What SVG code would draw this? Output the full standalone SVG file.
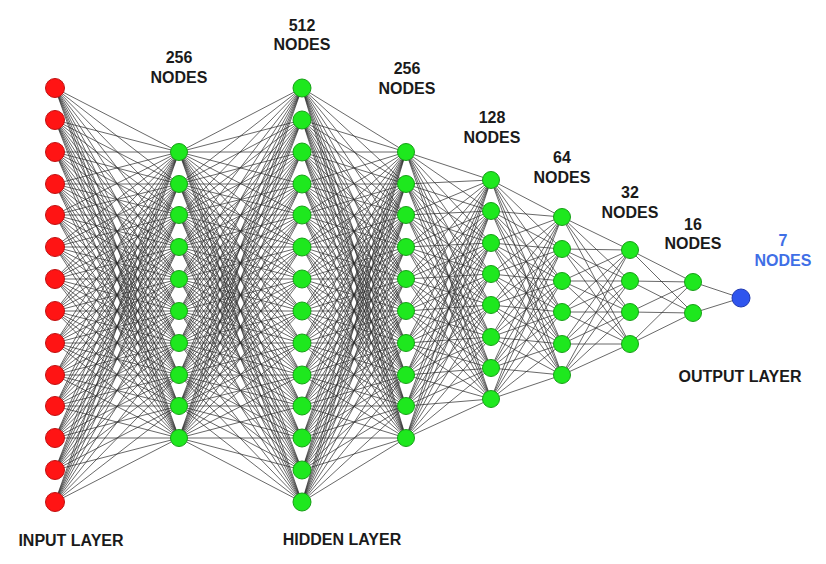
<svg xmlns="http://www.w3.org/2000/svg" width="826" height="564" viewBox="0 0 826 564">
<style>
.e{fill:none;stroke:#2e2e2e;stroke-width:0.8;stroke-opacity:0.9}
.r{fill:#ff1414;stroke:#c01010;stroke-width:1}
.g{fill:#1ee81e;stroke:#17a017;stroke-width:1}
.b{fill:#2f55ee;stroke:#2039b0;stroke-width:1}
.t{font-family:"Liberation Sans",Arial,sans-serif;font-weight:bold;font-size:16px;fill:#1a1a1a;text-anchor:middle}
.L{font-size:16px}
.bl{fill:#3f6fe6}
</style>
<rect width="826" height="564" fill="#ffffff"/>
<g id="connectors">
<g id="edges-input-256">
<path class="e" d="M55 88L179 152M55 88L179 184M55 88L179 215M55 88L179 247M55 88L179 279M55 88L179 311M55 88L179 343M55 88L179 375M55 88L179 406M55 88L179 438"/>
<path class="e" d="M55 120L179 152M55 120L179 184M55 120L179 215M55 120L179 247M55 120L179 279M55 120L179 311M55 120L179 343M55 120L179 375M55 120L179 406M55 120L179 438"/>
<path class="e" d="M55 152L179 152M55 152L179 184M55 152L179 215M55 152L179 247M55 152L179 279M55 152L179 311M55 152L179 343M55 152L179 375M55 152L179 406M55 152L179 438"/>
<path class="e" d="M55 184L179 152M55 184L179 184M55 184L179 215M55 184L179 247M55 184L179 279M55 184L179 311M55 184L179 343M55 184L179 375M55 184L179 406M55 184L179 438"/>
<path class="e" d="M55 215L179 152M55 215L179 184M55 215L179 215M55 215L179 247M55 215L179 279M55 215L179 311M55 215L179 343M55 215L179 375M55 215L179 406M55 215L179 438"/>
<path class="e" d="M55 247L179 152M55 247L179 184M55 247L179 215M55 247L179 247M55 247L179 279M55 247L179 311M55 247L179 343M55 247L179 375M55 247L179 406M55 247L179 438"/>
<path class="e" d="M55 279L179 152M55 279L179 184M55 279L179 215M55 279L179 247M55 279L179 279M55 279L179 311M55 279L179 343M55 279L179 375M55 279L179 406M55 279L179 438"/>
<path class="e" d="M55 311L179 152M55 311L179 184M55 311L179 215M55 311L179 247M55 311L179 279M55 311L179 311M55 311L179 343M55 311L179 375M55 311L179 406M55 311L179 438"/>
<path class="e" d="M55 343L179 152M55 343L179 184M55 343L179 215M55 343L179 247M55 343L179 279M55 343L179 311M55 343L179 343M55 343L179 375M55 343L179 406M55 343L179 438"/>
<path class="e" d="M55 375L179 152M55 375L179 184M55 375L179 215M55 375L179 247M55 375L179 279M55 375L179 311M55 375L179 343M55 375L179 375M55 375L179 406M55 375L179 438"/>
<path class="e" d="M55 406L179 152M55 406L179 184M55 406L179 215M55 406L179 247M55 406L179 279M55 406L179 311M55 406L179 343M55 406L179 375M55 406L179 406M55 406L179 438"/>
<path class="e" d="M55 438L179 152M55 438L179 184M55 438L179 215M55 438L179 247M55 438L179 279M55 438L179 311M55 438L179 343M55 438L179 375M55 438L179 406M55 438L179 438"/>
<path class="e" d="M55 470L179 152M55 470L179 184M55 470L179 215M55 470L179 247M55 470L179 279M55 470L179 311M55 470L179 343M55 470L179 375M55 470L179 406M55 470L179 438"/>
<path class="e" d="M55 502L179 152M55 502L179 184M55 502L179 215M55 502L179 247M55 502L179 279M55 502L179 311M55 502L179 343M55 502L179 375M55 502L179 406M55 502L179 438"/>
</g>
<g id="edges-256-512">
<path class="e" d="M179 152L302 88M179 152L302 120M179 152L302 152M179 152L302 184M179 152L302 215M179 152L302 247M179 152L302 279M179 152L302 311M179 152L302 343M179 152L302 375M179 152L302 406M179 152L302 438M179 152L302 470M179 152L302 502"/>
<path class="e" d="M179 184L302 88M179 184L302 120M179 184L302 152M179 184L302 184M179 184L302 215M179 184L302 247M179 184L302 279M179 184L302 311M179 184L302 343M179 184L302 375M179 184L302 406M179 184L302 438M179 184L302 470M179 184L302 502"/>
<path class="e" d="M179 215L302 88M179 215L302 120M179 215L302 152M179 215L302 184M179 215L302 215M179 215L302 247M179 215L302 279M179 215L302 311M179 215L302 343M179 215L302 375M179 215L302 406M179 215L302 438M179 215L302 470M179 215L302 502"/>
<path class="e" d="M179 247L302 88M179 247L302 120M179 247L302 152M179 247L302 184M179 247L302 215M179 247L302 247M179 247L302 279M179 247L302 311M179 247L302 343M179 247L302 375M179 247L302 406M179 247L302 438M179 247L302 470M179 247L302 502"/>
<path class="e" d="M179 279L302 88M179 279L302 120M179 279L302 152M179 279L302 184M179 279L302 215M179 279L302 247M179 279L302 279M179 279L302 311M179 279L302 343M179 279L302 375M179 279L302 406M179 279L302 438M179 279L302 470M179 279L302 502"/>
<path class="e" d="M179 311L302 88M179 311L302 120M179 311L302 152M179 311L302 184M179 311L302 215M179 311L302 247M179 311L302 279M179 311L302 311M179 311L302 343M179 311L302 375M179 311L302 406M179 311L302 438M179 311L302 470M179 311L302 502"/>
<path class="e" d="M179 343L302 88M179 343L302 120M179 343L302 152M179 343L302 184M179 343L302 215M179 343L302 247M179 343L302 279M179 343L302 311M179 343L302 343M179 343L302 375M179 343L302 406M179 343L302 438M179 343L302 470M179 343L302 502"/>
<path class="e" d="M179 375L302 88M179 375L302 120M179 375L302 152M179 375L302 184M179 375L302 215M179 375L302 247M179 375L302 279M179 375L302 311M179 375L302 343M179 375L302 375M179 375L302 406M179 375L302 438M179 375L302 470M179 375L302 502"/>
<path class="e" d="M179 406L302 88M179 406L302 120M179 406L302 152M179 406L302 184M179 406L302 215M179 406L302 247M179 406L302 279M179 406L302 311M179 406L302 343M179 406L302 375M179 406L302 406M179 406L302 438M179 406L302 470M179 406L302 502"/>
<path class="e" d="M179 438L302 88M179 438L302 120M179 438L302 152M179 438L302 184M179 438L302 215M179 438L302 247M179 438L302 279M179 438L302 311M179 438L302 343M179 438L302 375M179 438L302 406M179 438L302 438M179 438L302 470M179 438L302 502"/>
</g>
<g id="edges-512-256">
<path class="e" d="M302 88L406 152M302 88L406 184M302 88L406 215M302 88L406 247M302 88L406 279M302 88L406 311M302 88L406 343M302 88L406 375M302 88L406 406M302 88L406 438"/>
<path class="e" d="M302 120L406 152M302 120L406 184M302 120L406 215M302 120L406 247M302 120L406 279M302 120L406 311M302 120L406 343M302 120L406 375M302 120L406 406M302 120L406 438"/>
<path class="e" d="M302 152L406 152M302 152L406 184M302 152L406 215M302 152L406 247M302 152L406 279M302 152L406 311M302 152L406 343M302 152L406 375M302 152L406 406M302 152L406 438"/>
<path class="e" d="M302 184L406 152M302 184L406 184M302 184L406 215M302 184L406 247M302 184L406 279M302 184L406 311M302 184L406 343M302 184L406 375M302 184L406 406M302 184L406 438"/>
<path class="e" d="M302 215L406 152M302 215L406 184M302 215L406 215M302 215L406 247M302 215L406 279M302 215L406 311M302 215L406 343M302 215L406 375M302 215L406 406M302 215L406 438"/>
<path class="e" d="M302 247L406 152M302 247L406 184M302 247L406 215M302 247L406 247M302 247L406 279M302 247L406 311M302 247L406 343M302 247L406 375M302 247L406 406M302 247L406 438"/>
<path class="e" d="M302 279L406 152M302 279L406 184M302 279L406 215M302 279L406 247M302 279L406 279M302 279L406 311M302 279L406 343M302 279L406 375M302 279L406 406M302 279L406 438"/>
<path class="e" d="M302 311L406 152M302 311L406 184M302 311L406 215M302 311L406 247M302 311L406 279M302 311L406 311M302 311L406 343M302 311L406 375M302 311L406 406M302 311L406 438"/>
<path class="e" d="M302 343L406 152M302 343L406 184M302 343L406 215M302 343L406 247M302 343L406 279M302 343L406 311M302 343L406 343M302 343L406 375M302 343L406 406M302 343L406 438"/>
<path class="e" d="M302 375L406 152M302 375L406 184M302 375L406 215M302 375L406 247M302 375L406 279M302 375L406 311M302 375L406 343M302 375L406 375M302 375L406 406M302 375L406 438"/>
<path class="e" d="M302 406L406 152M302 406L406 184M302 406L406 215M302 406L406 247M302 406L406 279M302 406L406 311M302 406L406 343M302 406L406 375M302 406L406 406M302 406L406 438"/>
<path class="e" d="M302 438L406 152M302 438L406 184M302 438L406 215M302 438L406 247M302 438L406 279M302 438L406 311M302 438L406 343M302 438L406 375M302 438L406 406M302 438L406 438"/>
<path class="e" d="M302 470L406 152M302 470L406 184M302 470L406 215M302 470L406 247M302 470L406 279M302 470L406 311M302 470L406 343M302 470L406 375M302 470L406 406M302 470L406 438"/>
<path class="e" d="M302 502L406 152M302 502L406 184M302 502L406 215M302 502L406 247M302 502L406 279M302 502L406 311M302 502L406 343M302 502L406 375M302 502L406 406M302 502L406 438"/>
</g>
<g id="edges-256-128">
<path class="e" d="M406 152L491 180M406 152L491 211M406 152L491 243M406 152L491 274M406 152L491 305M406 152L491 337M406 152L491 368M406 152L491 399"/>
<path class="e" d="M406 184L491 180M406 184L491 211M406 184L491 243M406 184L491 274M406 184L491 305M406 184L491 337M406 184L491 368M406 184L491 399"/>
<path class="e" d="M406 215L491 180M406 215L491 211M406 215L491 243M406 215L491 274M406 215L491 305M406 215L491 337M406 215L491 368M406 215L491 399"/>
<path class="e" d="M406 247L491 180M406 247L491 211M406 247L491 243M406 247L491 274M406 247L491 305M406 247L491 337M406 247L491 368M406 247L491 399"/>
<path class="e" d="M406 279L491 180M406 279L491 211M406 279L491 243M406 279L491 274M406 279L491 305M406 279L491 337M406 279L491 368M406 279L491 399"/>
<path class="e" d="M406 311L491 180M406 311L491 211M406 311L491 243M406 311L491 274M406 311L491 305M406 311L491 337M406 311L491 368M406 311L491 399"/>
<path class="e" d="M406 343L491 180M406 343L491 211M406 343L491 243M406 343L491 274M406 343L491 305M406 343L491 337M406 343L491 368M406 343L491 399"/>
<path class="e" d="M406 375L491 180M406 375L491 211M406 375L491 243M406 375L491 274M406 375L491 305M406 375L491 337M406 375L491 368M406 375L491 399"/>
<path class="e" d="M406 406L491 180M406 406L491 211M406 406L491 243M406 406L491 274M406 406L491 305M406 406L491 337M406 406L491 368M406 406L491 399"/>
<path class="e" d="M406 438L491 180M406 438L491 211M406 438L491 243M406 438L491 274M406 438L491 305M406 438L491 337M406 438L491 368M406 438L491 399"/>
</g>
<g id="edges-128-64">
<path class="e" d="M491 180L562 217M491 180L562 249M491 180L562 281M491 180L562 312M491 180L562 344M491 180L562 375"/>
<path class="e" d="M491 211L562 217M491 211L562 249M491 211L562 281M491 211L562 312M491 211L562 344M491 211L562 375"/>
<path class="e" d="M491 243L562 217M491 243L562 249M491 243L562 281M491 243L562 312M491 243L562 344M491 243L562 375"/>
<path class="e" d="M491 274L562 217M491 274L562 249M491 274L562 281M491 274L562 312M491 274L562 344M491 274L562 375"/>
<path class="e" d="M491 305L562 217M491 305L562 249M491 305L562 281M491 305L562 312M491 305L562 344M491 305L562 375"/>
<path class="e" d="M491 337L562 217M491 337L562 249M491 337L562 281M491 337L562 312M491 337L562 344M491 337L562 375"/>
<path class="e" d="M491 368L562 217M491 368L562 249M491 368L562 281M491 368L562 312M491 368L562 344M491 368L562 375"/>
<path class="e" d="M491 399L562 217M491 399L562 249M491 399L562 281M491 399L562 312M491 399L562 344M491 399L562 375"/>
</g>
<g id="edges-64-32">
<path class="e" d="M562 217L630 250M562 217L630 281M562 217L630 312M562 217L630 344"/>
<path class="e" d="M562 249L630 250M562 249L630 281M562 249L630 312M562 249L630 344"/>
<path class="e" d="M562 281L630 250M562 281L630 281M562 281L630 312M562 281L630 344"/>
<path class="e" d="M562 312L630 250M562 312L630 281M562 312L630 312M562 312L630 344"/>
<path class="e" d="M562 344L630 250M562 344L630 281M562 344L630 312M562 344L630 344"/>
<path class="e" d="M562 375L630 250M562 375L630 281M562 375L630 312M562 375L630 344"/>
</g>
<g id="edges-32-16">
<path class="e" d="M630 250L693 282M630 250L693 313M630 281L693 282M630 281L693 313M630 312L693 282M630 312L693 313M630 344L693 282M630 344L693 313"/>
</g>
<g id="edges-16-out">
<path class="e" d="M693 282L741 298M693 313L741 298"/>
</g>
</g>
<g id="input-layer">
<g id="in1"><circle class="r" cx="55" cy="88" r="9.5"/></g>
<g id="in2"><circle class="r" cx="55" cy="120" r="9.5"/></g>
<g id="in3"><circle class="r" cx="55" cy="152" r="9.5"/></g>
<g id="in4"><circle class="r" cx="55" cy="184" r="9.5"/></g>
<g id="in5"><circle class="r" cx="55" cy="215" r="9.5"/></g>
<g id="in6"><circle class="r" cx="55" cy="247" r="9.5"/></g>
<g id="in7"><circle class="r" cx="55" cy="279" r="9.5"/></g>
<g id="in8"><circle class="r" cx="55" cy="311" r="9.5"/></g>
<g id="in9"><circle class="r" cx="55" cy="343" r="9.5"/></g>
<g id="in10"><circle class="r" cx="55" cy="375" r="9.5"/></g>
<g id="in11"><circle class="r" cx="55" cy="406" r="9.5"/></g>
<g id="in12"><circle class="r" cx="55" cy="438" r="9.5"/></g>
<g id="in13"><circle class="r" cx="55" cy="470" r="9.5"/></g>
<g id="in14"><circle class="r" cx="55" cy="502" r="9.5"/></g>
</g>
<g id="hidden-256a">
<g id="h1n1"><circle class="g" cx="179" cy="152" r="8.5"/></g>
<g id="h1n2"><circle class="g" cx="179" cy="184" r="8.5"/></g>
<g id="h1n3"><circle class="g" cx="179" cy="215" r="8.5"/></g>
<g id="h1n4"><circle class="g" cx="179" cy="247" r="8.5"/></g>
<g id="h1n5"><circle class="g" cx="179" cy="279" r="8.5"/></g>
<g id="h1n6"><circle class="g" cx="179" cy="311" r="8.5"/></g>
<g id="h1n7"><circle class="g" cx="179" cy="343" r="8.5"/></g>
<g id="h1n8"><circle class="g" cx="179" cy="375" r="8.5"/></g>
<g id="h1n9"><circle class="g" cx="179" cy="406" r="8.5"/></g>
<g id="h1n10"><circle class="g" cx="179" cy="438" r="8.5"/></g>
</g>
<g id="hidden-512">
<g id="h2n1"><circle class="g" cx="302" cy="88" r="9"/></g>
<g id="h2n2"><circle class="g" cx="302" cy="120" r="9"/></g>
<g id="h2n3"><circle class="g" cx="302" cy="152" r="9"/></g>
<g id="h2n4"><circle class="g" cx="302" cy="184" r="9"/></g>
<g id="h2n5"><circle class="g" cx="302" cy="215" r="9"/></g>
<g id="h2n6"><circle class="g" cx="302" cy="247" r="9"/></g>
<g id="h2n7"><circle class="g" cx="302" cy="279" r="9"/></g>
<g id="h2n8"><circle class="g" cx="302" cy="311" r="9"/></g>
<g id="h2n9"><circle class="g" cx="302" cy="343" r="9"/></g>
<g id="h2n10"><circle class="g" cx="302" cy="375" r="9"/></g>
<g id="h2n11"><circle class="g" cx="302" cy="406" r="9"/></g>
<g id="h2n12"><circle class="g" cx="302" cy="438" r="9"/></g>
<g id="h2n13"><circle class="g" cx="302" cy="470" r="9"/></g>
<g id="h2n14"><circle class="g" cx="302" cy="502" r="9"/></g>
</g>
<g id="hidden-256b">
<g id="h3n1"><circle class="g" cx="406" cy="152" r="8.5"/></g>
<g id="h3n2"><circle class="g" cx="406" cy="184" r="8.5"/></g>
<g id="h3n3"><circle class="g" cx="406" cy="215" r="8.5"/></g>
<g id="h3n4"><circle class="g" cx="406" cy="247" r="8.5"/></g>
<g id="h3n5"><circle class="g" cx="406" cy="279" r="8.5"/></g>
<g id="h3n6"><circle class="g" cx="406" cy="311" r="8.5"/></g>
<g id="h3n7"><circle class="g" cx="406" cy="343" r="8.5"/></g>
<g id="h3n8"><circle class="g" cx="406" cy="375" r="8.5"/></g>
<g id="h3n9"><circle class="g" cx="406" cy="406" r="8.5"/></g>
<g id="h3n10"><circle class="g" cx="406" cy="438" r="8.5"/></g>
</g>
<g id="hidden-128">
<g id="h4n1"><circle class="g" cx="491" cy="180" r="8.5"/></g>
<g id="h4n2"><circle class="g" cx="491" cy="211" r="8.5"/></g>
<g id="h4n3"><circle class="g" cx="491" cy="243" r="8.5"/></g>
<g id="h4n4"><circle class="g" cx="491" cy="274" r="8.5"/></g>
<g id="h4n5"><circle class="g" cx="491" cy="305" r="8.5"/></g>
<g id="h4n6"><circle class="g" cx="491" cy="337" r="8.5"/></g>
<g id="h4n7"><circle class="g" cx="491" cy="368" r="8.5"/></g>
<g id="h4n8"><circle class="g" cx="491" cy="399" r="8.5"/></g>
</g>
<g id="hidden-64">
<g id="h5n1"><circle class="g" cx="562" cy="217" r="8.5"/></g>
<g id="h5n2"><circle class="g" cx="562" cy="249" r="8.5"/></g>
<g id="h5n3"><circle class="g" cx="562" cy="281" r="8.5"/></g>
<g id="h5n4"><circle class="g" cx="562" cy="312" r="8.5"/></g>
<g id="h5n5"><circle class="g" cx="562" cy="344" r="8.5"/></g>
<g id="h5n6"><circle class="g" cx="562" cy="375" r="8.5"/></g>
</g>
<g id="hidden-32">
<g id="h6n1"><circle class="g" cx="630" cy="250" r="8.5"/></g>
<g id="h6n2"><circle class="g" cx="630" cy="281" r="8.5"/></g>
<g id="h6n3"><circle class="g" cx="630" cy="312" r="8.5"/></g>
<g id="h6n4"><circle class="g" cx="630" cy="344" r="8.5"/></g>
</g>
<g id="hidden-16">
<g id="h7n1"><circle class="g" cx="693" cy="282" r="8.5"/></g>
<g id="h7n2"><circle class="g" cx="693" cy="313" r="8.5"/></g>
</g>
<g id="output-node"><circle class="b" cx="741" cy="298" r="9"/></g>
<g id="labels">
<text class="t" x="179" y="63">256</text><text class="t" x="179" y="83">NODES</text>
<text class="t" x="302" y="31">512</text><text class="t" x="302" y="50">NODES</text>
<text class="t" x="407" y="74">256</text><text class="t" x="407" y="94">NODES</text>
<text class="t" x="492" y="123">128</text><text class="t" x="492" y="143">NODES</text>
<text class="t" x="562" y="163">64</text><text class="t" x="562" y="183">NODES</text>
<text class="t" x="630" y="198">32</text><text class="t" x="630" y="218">NODES</text>
<text class="t" x="693" y="230">16</text><text class="t" x="693" y="249">NODES</text>
<text class="t bl" x="783" y="246">7</text><text class="t bl" x="783" y="266">NODES</text>
<text class="t L" x="71" y="546">INPUT LAYER</text>
<text class="t L" x="342" y="545">HIDDEN LAYER</text>
<text class="t L" x="740" y="382">OUTPUT LAYER</text>
</g>
</svg>
